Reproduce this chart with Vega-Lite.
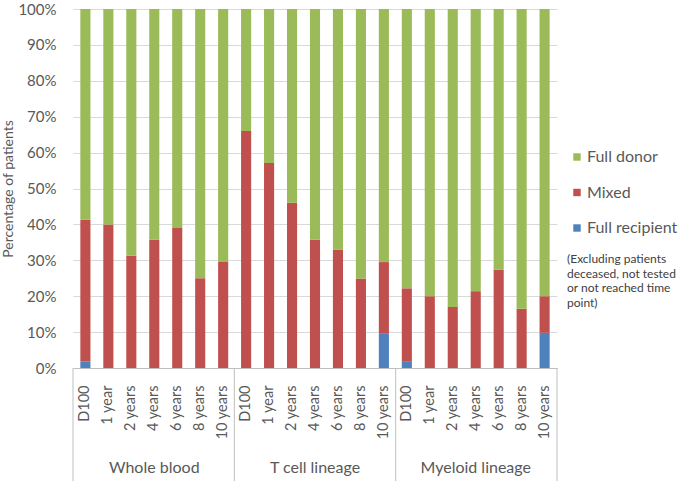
{
  "$schema": "https://vega.github.io/schema/vega-lite/v6.json",
  "width": 484,
  "height": 359,
  "autosize": "none",
  "padding": {"left": 73, "top": 9, "right": 128, "bottom": 115},
  "background": "white",
  "config": {
    "font": "Lato",
    "view": {"stroke": null}
  },
  "layer": [
    {
      "data": {
        "values": [
          {"group": "Whole blood", "time": "D100", "status": "Full recipient", "pct": 1.8},
          {"group": "Whole blood", "time": "D100", "status": "Mixed", "pct": 39.5},
          {"group": "Whole blood", "time": "D100", "status": "Full donor", "pct": 58.7},
          {"group": "Whole blood", "time": "1 year", "status": "Full recipient", "pct": 0},
          {"group": "Whole blood", "time": "1 year", "status": "Mixed", "pct": 40},
          {"group": "Whole blood", "time": "1 year", "status": "Full donor", "pct": 60},
          {"group": "Whole blood", "time": "2 years", "status": "Full recipient", "pct": 0},
          {"group": "Whole blood", "time": "2 years", "status": "Mixed", "pct": 31.3},
          {"group": "Whole blood", "time": "2 years", "status": "Full donor", "pct": 68.7},
          {"group": "Whole blood", "time": "4 years", "status": "Full recipient", "pct": 0},
          {"group": "Whole blood", "time": "4 years", "status": "Mixed", "pct": 35.7},
          {"group": "Whole blood", "time": "4 years", "status": "Full donor", "pct": 64.3},
          {"group": "Whole blood", "time": "6 years", "status": "Full recipient", "pct": 0},
          {"group": "Whole blood", "time": "6 years", "status": "Mixed", "pct": 39},
          {"group": "Whole blood", "time": "6 years", "status": "Full donor", "pct": 61},
          {"group": "Whole blood", "time": "8 years", "status": "Full recipient", "pct": 0},
          {"group": "Whole blood", "time": "8 years", "status": "Mixed", "pct": 25},
          {"group": "Whole blood", "time": "8 years", "status": "Full donor", "pct": 75},
          {"group": "Whole blood", "time": "10 years", "status": "Full recipient", "pct": 0},
          {"group": "Whole blood", "time": "10 years", "status": "Mixed", "pct": 29.5},
          {"group": "Whole blood", "time": "10 years", "status": "Full donor", "pct": 70.5},
          {"group": "T cell lineage", "time": "D100", "status": "Full recipient", "pct": 0},
          {"group": "T cell lineage", "time": "D100", "status": "Mixed", "pct": 66},
          {"group": "T cell lineage", "time": "D100", "status": "Full donor", "pct": 34},
          {"group": "T cell lineage", "time": "1 year", "status": "Full recipient", "pct": 0},
          {"group": "T cell lineage", "time": "1 year", "status": "Mixed", "pct": 57.1},
          {"group": "T cell lineage", "time": "1 year", "status": "Full donor", "pct": 42.9},
          {"group": "T cell lineage", "time": "2 years", "status": "Full recipient", "pct": 0},
          {"group": "T cell lineage", "time": "2 years", "status": "Mixed", "pct": 46},
          {"group": "T cell lineage", "time": "2 years", "status": "Full donor", "pct": 54},
          {"group": "T cell lineage", "time": "4 years", "status": "Full recipient", "pct": 0},
          {"group": "T cell lineage", "time": "4 years", "status": "Mixed", "pct": 35.7},
          {"group": "T cell lineage", "time": "4 years", "status": "Full donor", "pct": 64.3},
          {"group": "T cell lineage", "time": "6 years", "status": "Full recipient", "pct": 0},
          {"group": "T cell lineage", "time": "6 years", "status": "Mixed", "pct": 33},
          {"group": "T cell lineage", "time": "6 years", "status": "Full donor", "pct": 67},
          {"group": "T cell lineage", "time": "8 years", "status": "Full recipient", "pct": 0},
          {"group": "T cell lineage", "time": "8 years", "status": "Mixed", "pct": 24.9},
          {"group": "T cell lineage", "time": "8 years", "status": "Full donor", "pct": 75.1},
          {"group": "T cell lineage", "time": "10 years", "status": "Full recipient", "pct": 9.7},
          {"group": "T cell lineage", "time": "10 years", "status": "Mixed", "pct": 19.8},
          {"group": "T cell lineage", "time": "10 years", "status": "Full donor", "pct": 70.5},
          {"group": "Myeloid lineage", "time": "D100", "status": "Full recipient", "pct": 1.9},
          {"group": "Myeloid lineage", "time": "D100", "status": "Mixed", "pct": 20.3},
          {"group": "Myeloid lineage", "time": "D100", "status": "Full donor", "pct": 77.8},
          {"group": "Myeloid lineage", "time": "1 year", "status": "Full recipient", "pct": 0},
          {"group": "Myeloid lineage", "time": "1 year", "status": "Mixed", "pct": 20},
          {"group": "Myeloid lineage", "time": "1 year", "status": "Full donor", "pct": 80},
          {"group": "Myeloid lineage", "time": "2 years", "status": "Full recipient", "pct": 0},
          {"group": "Myeloid lineage", "time": "2 years", "status": "Mixed", "pct": 17},
          {"group": "Myeloid lineage", "time": "2 years", "status": "Full donor", "pct": 83},
          {"group": "Myeloid lineage", "time": "4 years", "status": "Full recipient", "pct": 0},
          {"group": "Myeloid lineage", "time": "4 years", "status": "Mixed", "pct": 21.4},
          {"group": "Myeloid lineage", "time": "4 years", "status": "Full donor", "pct": 78.6},
          {"group": "Myeloid lineage", "time": "6 years", "status": "Full recipient", "pct": 0},
          {"group": "Myeloid lineage", "time": "6 years", "status": "Mixed", "pct": 27.4},
          {"group": "Myeloid lineage", "time": "6 years", "status": "Full donor", "pct": 72.6},
          {"group": "Myeloid lineage", "time": "8 years", "status": "Full recipient", "pct": 0},
          {"group": "Myeloid lineage", "time": "8 years", "status": "Mixed", "pct": 16.5},
          {"group": "Myeloid lineage", "time": "8 years", "status": "Full donor", "pct": 83.5},
          {"group": "Myeloid lineage", "time": "10 years", "status": "Full recipient", "pct": 9.8},
          {"group": "Myeloid lineage", "time": "10 years", "status": "Mixed", "pct": 10.2},
          {"group": "Myeloid lineage", "time": "10 years", "status": "Full donor", "pct": 80}
        ]
      },
      "transform": [
        {"calculate": "datum.group + '|' + datum.time", "as": "key"},
        {"calculate": "indexof(['Full recipient','Mixed','Full donor'], datum.status)", "as": "stackOrder"}
      ],
      "layer": [
        {
          "mark": {"type": "bar"},
          "encoding": {
            "x": {
              "field": "key",
              "type": "nominal",
              "sort": null,
              "scale": {"paddingInner": 0.56, "paddingOuter": 0.32},
              "axis": {
                "title": null,
                "labelExpr": "split(datum.label, '|')[1]",
                "labelAngle": -90,
                "labelAlign": "right",
                "labelBaseline": "middle",
                "labelFontSize": 14.5,
                "labelColor": "#595959",
                "labelPadding": 17,
                "ticks": false,
                "domainColor": "#bfbfbf",
                "grid": false
              }
            },
            "y": {
              "field": "pct",
              "type": "quantitative",
              "stack": "zero",
              "scale": {"domain": [0, 100], "nice": false},
              "axis": {
                "title": "Percentage of patients",
                "titleFontSize": 14,
                "titleFontWeight": "normal",
                "titleColor": "#595959",
                "titlePadding": 2,
                "values": [0, 10, 20, 30, 40, 50, 60, 70, 80, 90, 100],
                "labelExpr": "datum.value + '%'",
                "labelFontSize": 15,
                "labelColor": "#595959",
                "labelPadding": 17,
                "labelOverlap": false,
                "ticks": false,
                "domain": false,
                "grid": true,
                "gridColor": "#d9d9d9"
              }
            },
            "color": {
              "field": "status",
              "type": "nominal",
              "scale": {
                "domain": ["Full donor", "Mixed", "Full recipient"],
                "range": ["#9bbb59", "#c0504d", "#4f81bd"]
              },
              "legend": {
                "orient": "none",
                "legendX": 494,
                "legendY": 140,
                "title": ["(Excluding patients", "deceased, not tested", "or not reached time", "point)"],
                "titleOrient": "bottom",
                "titleFontSize": 12,
                "titleFontWeight": "normal",
                "titleColor": "#404040",
                "titleLineHeight": 14.5,
                "titlePadding": 18,
                "titleAnchor": "start",
                "symbolType": "square",
                "symbolSize": 55,
                "symbolStrokeWidth": 0,
                "symbolOffset": 2,
                "labelFontSize": 16,
                "labelColor": "#595959",
                "labelOffset": 2,
                "rowPadding": 19.5
              }
            },
            "order": {"field": "stackOrder", "type": "quantitative"}
          }
        },
        {
          "transform": [{"filter": "datum.time == '4 years' && datum.status == 'Mixed'"}],
          "mark": {"type": "text", "fontSize": 16, "color": "#595959", "baseline": "middle"},
          "encoding": {
            "x": {"field": "key", "type": "nominal", "sort": null},
            "y": {
              "datum": -27.8,
              "type": "quantitative",
              "axis": {
                "title": "Percentage of patients",
                "titleFontSize": 14,
                "titleFontWeight": "normal",
                "titleColor": "#595959",
                "titlePadding": 2,
                "values": [0, 10, 20, 30, 40, 50, 60, 70, 80, 90, 100],
                "labelExpr": "datum.value + '%'",
                "labelFontSize": 15,
                "labelColor": "#595959",
                "labelPadding": 17,
                "labelOverlap": false,
                "ticks": false,
                "domain": false,
                "grid": true,
                "gridColor": "#d9d9d9"
              }
            },
            "text": {"field": "group"}
          }
        }
      ]
    },
    {
      "data": {"values": [{"boundary": 0}, {"boundary": 7}, {"boundary": 14}, {"boundary": 21}]},
      "mark": {"type": "rule", "color": "#bfbfbf", "strokeWidth": 1},
      "encoding": {
        "x": {"field": "boundary", "type": "quantitative", "scale": {"domain": [0, 21], "nice": false, "zero": false}, "axis": null},
        "y": {
          "datum": 0,
          "type": "quantitative",
          "axis": {
            "title": "Percentage of patients",
            "titleFontSize": 14,
            "titleFontWeight": "normal",
            "titleColor": "#595959",
            "titlePadding": 2,
            "values": [0, 10, 20, 30, 40, 50, 60, 70, 80, 90, 100],
            "labelExpr": "datum.value + '%'",
            "labelFontSize": 15,
            "labelColor": "#595959",
            "labelPadding": 17,
            "labelOverlap": false,
            "ticks": false,
            "domain": false,
            "grid": true,
            "gridColor": "#d9d9d9"
          }
        },
        "y2": {"datum": -31.5}
      }
    }
  ],
  "resolve": {"scale": {"x": "independent"}, "axis": {"x": "independent"}}
}
